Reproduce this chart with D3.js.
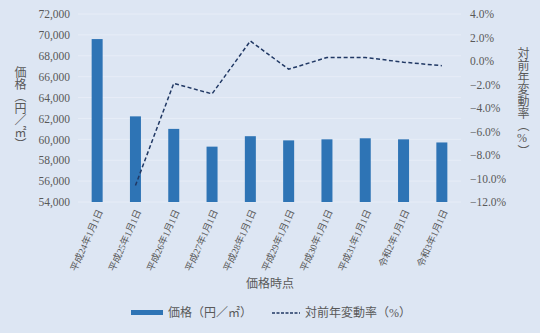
<!DOCTYPE html>
<html lang="ja">
<head>
<meta charset="UTF-8">
<title>価格と対前年変動率</title>
<script src="https://d3js.org/d3.v7.min.js"></script>
<style>
  body { margin: 0; background: #dde6f3; }
  svg text { font-family: "Liberation Serif", "Noto Sans CJK JP", serif; fill: #595959; }
</style>
</head>
<body>
<div id="chart"></div>
<script>
// data
const dates = ["平成24年1月1日", "平成25年1月1日", "平成26年1月1日", "平成27年1月1日", "平成28年1月1日",
               "平成29年1月1日", "平成30年1月1日", "平成31年1月1日", "令和2年1月1日", "令和3年1月1日"];
const prices = [69600, 62200, 61000, 59300, 60300, 59900, 60000, 60100, 60000, 59700];
const changes = [null, -10.6, -1.9, -2.8, 1.7, -0.7, 0.3, 0.3, -0.1, -0.4];
const priceTicks = d3.range(54000, 72001, 2000);
const changeTicks = d3.range(-12, 4.01, 2);

const W = 540, H = 333;
const plotL = 78, plotR = 461, plotT = 14, plotB = 202;

const svg = d3.select("#chart").append("svg")
    .attr("width", W).attr("height", H);

svg.append("rect").attr("width", W).attr("height", H).attr("fill", "#dde6f3");

const x = d3.scaleBand().domain(dates).range([plotL, plotR]).padding(0);
const y = d3.scaleLinear().domain([54000, 72000]).range([plotB, plotT]);
const y2 = d3.scaleLinear().domain([-12, 4]).range([plotB, plotT]);

// gridlines
svg.append("g")
    .selectAll("line")
    .data(priceTicks)
    .join("line")
    .attr("x1", plotL).attr("x2", plotR)
    .attr("y1", d => y(d)).attr("y2", d => y(d))
    .attr("stroke", "#e7edf7").attr("stroke-width", 1);

// left axis
const yAxis = svg.append("g")
    .attr("transform", `translate(${plotL - 8},0)`)
    .call(d3.axisLeft(y).tickValues(priceTicks).tickSize(0).tickPadding(0).tickFormat(d3.format(",")));
yAxis.select(".domain").remove();
yAxis.selectAll("text").style("font-size", "11.5px").attr("fill", "#595959");

// right axis
const y2Axis = svg.append("g")
    .attr("transform", `translate(${plotR + 9},0)`)
    .call(d3.axisRight(y2).tickValues(changeTicks).tickSize(0).tickPadding(0).tickFormat(d => d3.format(".1f")(d) + "%"));
y2Axis.select(".domain").remove();
y2Axis.selectAll("text").style("font-size", "11.5px").attr("fill", "#595959");

// bars
const barW = 11;
svg.append("g")
    .selectAll("rect")
    .data(prices)
    .join("rect")
    .attr("x", (d, i) => x(dates[i]) + x.bandwidth() / 2 - barW / 2)
    .attr("y", d => y(d))
    .attr("width", barW)
    .attr("height", d => plotB - y(d))
    .attr("fill", "#2e74b5");

// line
const line = d3.line()
    .defined(d => d != null)
    .x((d, i) => x(dates[i]) + x.bandwidth() / 2)
    .y(d => y2(d));
svg.append("path")
    .datum(changes)
    .attr("d", line)
    .attr("fill", "none")
    .attr("stroke", "#203864")
    .attr("stroke-width", 1.5)
    .attr("stroke-dasharray", "4,2.5");

// x labels
svg.append("g")
    .selectAll("text")
    .data(dates)
    .join("text")
    .attr("transform", d => `translate(${x(d) + x.bandwidth() / 2 + 3},${plotB + 8}) rotate(-66)`)
    .attr("text-anchor", "end")
    .attr("dy", "0.35em")
    .style("font-size", "9.5px")
    .text(d => d);

// axis titles
svg.append("text")
    .attr("x", W / 2).attr("y", 288)
    .attr("text-anchor", "middle")
    .style("font-size", "12px")
    .text("価格時点");

svg.append("text")
    .attr("x", 19).attr("y", 108)
    .attr("text-anchor", "middle")
    .style("writing-mode", "vertical-rl")
    .style("text-orientation", "upright")
    .style("font-size", "12px")
    .text("価格（円／㎡）");

svg.append("text")
    .attr("x", 522).attr("y", 102)
    .attr("text-anchor", "middle")
    .style("writing-mode", "vertical-rl")
    .style("text-orientation", "upright")
    .style("font-size", "12px")
    .text("対前年変動率（%）");

// legend
const lg = svg.append("g");
lg.append("rect").attr("x", 131).attr("y", 310).attr("width", 32).attr("height", 5).attr("fill", "#2e74b5");
lg.append("text").attr("x", 168).attr("y", 313).attr("dy", "0.35em").style("font-size", "12px").text("価格（円／㎡）");
lg.append("line").attr("x1", 272).attr("x2", 300).attr("y1", 313).attr("y2", 313)
    .attr("stroke", "#203864").attr("stroke-width", 1.5).attr("stroke-dasharray", "3,1.5");
lg.append("text").attr("x", 305).attr("y", 313).attr("dy", "0.35em").style("font-size", "12px").text("対前年変動率（%）");
</script>
</body>
</html>
